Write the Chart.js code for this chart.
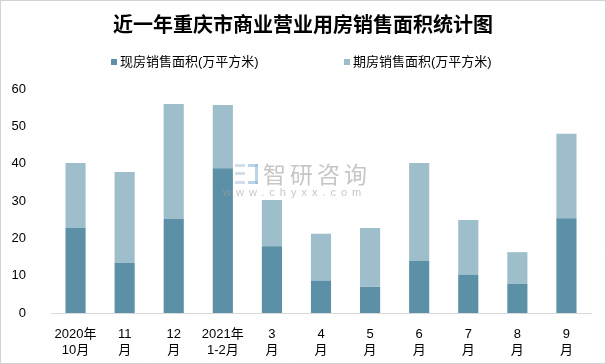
<!DOCTYPE html>
<html><head><meta charset="utf-8">
<script src="https://cdn.jsdelivr.net/npm/chart.js@4/dist/chart.umd.min.js"></script>
<style>html,body{margin:0;padding:0;background:#fff}#wrap{width:606px;height:364px;position:relative}</style>
</head><body><div id="wrap"><canvas id="c" width="606" height="364"></canvas></div>
<script>
const titleText = '近一年重庆市商业营业用房销售面积统计图';
const categories = [['2020年','10月'],['11','月'],['12','月'],['2021年','1-2月'],['3','月'],['4','月'],['5','月'],['6','月'],['7','月'],['8','月'],['9','月']];
const seriesNames = ['现房销售面积(万平方米)','期房销售面积(万平方米)'];
const spotValues = [22.8, 13.4, 25.2, 38.8, 17.9, 8.6, 7.0, 13.9, 10.2, 7.8, 25.4];
const futureValues = [17.4, 24.4, 30.8, 16.9, 12.4, 12.6, 15.8, 26.3, 14.7, 8.5, 22.6];
const yTicks = [0, 10, 20, 30, 40, 50, 60];
const colors = ['#5B90A6', '#9FBECB'];
const FONT = '"Liberation Sans", "Noto Sans CJK SC", sans-serif';

const decor = {
  id: 'decor',
  afterDraw(chart) {
    const ctx = chart.ctx;
    ctx.save();
    // border
    ctx.strokeStyle = '#a6a6a6';
    ctx.setLineDash([1, 1]);
    ctx.lineWidth = 1;
    ctx.strokeRect(0.5, 0.5, 605, 363);
    ctx.setLineDash([]);
    // title
    ctx.fillStyle = '#000';
    ctx.font = 'bold 20px "Noto Sans CJK SC", sans-serif';
    ctx.textAlign = 'center';
    ctx.textBaseline = 'middle';
    ctx.fillText(titleText, 303, 24);
    // legend
    ctx.font = '13px ' + FONT;
    ctx.textAlign = 'left';
    const lx = [111, 344];
    seriesNames.forEach((n, i) => {
      ctx.fillStyle = colors[i];
      ctx.fillRect(lx[i], 59, 6, 6);
      ctx.fillStyle = '#000';
      ctx.fillText(n, lx[i] + 9, 62);
    });
    // watermark
    ctx.globalAlpha = 0.6;
    ctx.fillStyle = '#b8c8dc';
    ctx.fillRect(235, 164, 10, 3);
    ctx.fillRect(235, 172, 10, 3);
    ctx.fillRect(235, 181, 10, 3);
    ctx.fillStyle = '#8fb7d8';
    ctx.fillRect(248, 164, 10, 3);
    ctx.fillRect(248, 181, 10, 3);
    ctx.fillRect(255, 164, 3, 20);
    ctx.fillStyle = '#a0a0a0';
    ctx.font = '23px "Noto Sans CJK SC", sans-serif';
    ctx.textBaseline = 'middle';
    ctx.letterSpacing = '4px';
    ctx.fillText('智研咨询', 263, 174);
    ctx.font = '11px ' + FONT;
    ctx.letterSpacing = '5px';
    ctx.fillText('www.chyxx.com', 223, 193);
    ctx.restore();
  }
};

new Chart(document.getElementById('c'), {
  type: 'bar',
  data: {
    labels: categories,
    datasets: [
      { label: seriesNames[0], data: spotValues, backgroundColor: colors[0], barPercentage: 0.41, categoryPercentage: 1 },
      { label: seriesNames[1], data: futureValues, backgroundColor: colors[1], barPercentage: 0.41, categoryPercentage: 1 }
    ]
  },
  options: {
    responsive: false,
    animation: false,
    devicePixelRatio: 1,
    layout: { padding: { top: 89, right: 15, left: 0, bottom: 0 } },
    plugins: { legend: { display: false }, title: { display: false }, tooltip: { enabled: false } },
    scales: {
      x: {
        stacked: true,
        grid: { display: false },
        border: { display: true, color: '#d9d9d9', width: 1 },
        ticks: { color: '#000', font: { family: FONT, size: 13 }, padding: 6, maxRotation: 0, autoSkip: false },
        afterFit: s => { s.height = 51; }
      },
      y: {
        stacked: true,
        min: 0, max: 60,
        afterBuildTicks: s => { s.ticks = yTicks.map(v => ({ value: v })); },
        grid: { display: false },
        border: { display: false },
        ticks: { color: '#000', font: { family: FONT, size: 13 }, padding: 17 },
        afterFit: s => { s.width = 51; }
      }
    }
  },
  plugins: [decor]
});
</script></body></html>
